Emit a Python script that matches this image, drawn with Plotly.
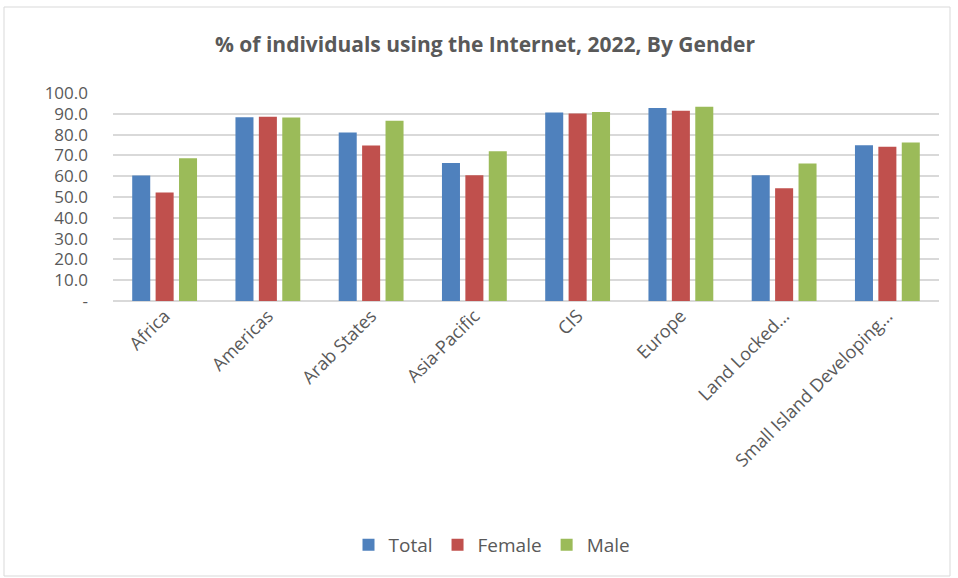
import plotly.graph_objects as go

categories = ["Africa", "Americas", "Arab States", "Asia-Pacific", "CIS", "Europe",
              "Land Locked…", "Small Island Developing…"]
total = [60.3, 88.3, 81.0, 66.4, 90.6, 92.8, 60.5, 74.9]
female = [52.2, 88.6, 74.7, 60.5, 90.1, 91.5, 54.2, 74.1]
male = [68.6, 88.2, 86.7, 72.0, 90.9, 93.4, 66.1, 76.2]
ytick_vals = [0, 10, 20, 30, 40, 50, 60, 70, 80, 90, 100]
ytick_text = ["-", "10.0", "20.0", "30.0", "40.0", "50.0", "60.0", "70.0", "80.0", "90.0", "100.0"]

fig = go.Figure()
for name, vals, col in [("Total", total, "#4F81BD"), ("Female", female, "#C0504D"), ("Male", male, "#9BBB59")]:
    fig.add_trace(go.Bar(x=categories, y=vals, name=name, marker=dict(color=col, line=dict(width=0))))

W, H = 958, 578
L, R, T, B = 113, 19, 93, 277
pw, ph = W - L - R, H - T - B
def px(x): return (x - L) / pw
def py(y): return (H - B - y) / ph

fig.update_layout(
    width=W, height=H,
    margin=dict(l=L, r=R, t=T, b=B, autoexpand=False),
    paper_bgcolor="white", plot_bgcolor="white",
    barmode="group", bargap=0.32, bargroupgap=0.23,
    font=dict(family="Open Sans", color="#595959"),
    title=dict(text="<b>% of individuals using the Internet, 2022, By Gender</b>",
               x=485 / W, xanchor="center", xref="container", y=1 - 45 / H, yanchor="middle",
               font=dict(size=21, color="#595959", family="Open Sans")),
    showlegend=True,
    legend=dict(orientation="h", xref="container", x=492 / W, xanchor="center", y=py(545), yanchor="middle",
                font=dict(size=19, color="#595959"), itemwidth=30, traceorder="normal"),
    xaxis=dict(tickangle=-45, tickfont=dict(size=18, color="#595959"), showgrid=False,
               showline=False, ticks=""),
    yaxis=dict(range=[0, 100], tickvals=ytick_vals, ticktext=ytick_text,
               tickfont=dict(size=17, color="#595959"), showgrid=True, gridcolor="#D9D9D9",
               gridwidth=1.5, zeroline=True, zerolinecolor="#D9D9D9", zerolinewidth=1.5,
               showline=False, ticks="", ticklabelstandoff=24),
    shapes=[dict(type="rect", xref="paper", yref="paper", x0=px(4), x1=px(950), y0=py(576), y1=py(7),
                 line=dict(color="#D9D9D9", width=1), fillcolor="rgba(0,0,0,0)", layer="below")],
)
fig.write_html("out.html")
